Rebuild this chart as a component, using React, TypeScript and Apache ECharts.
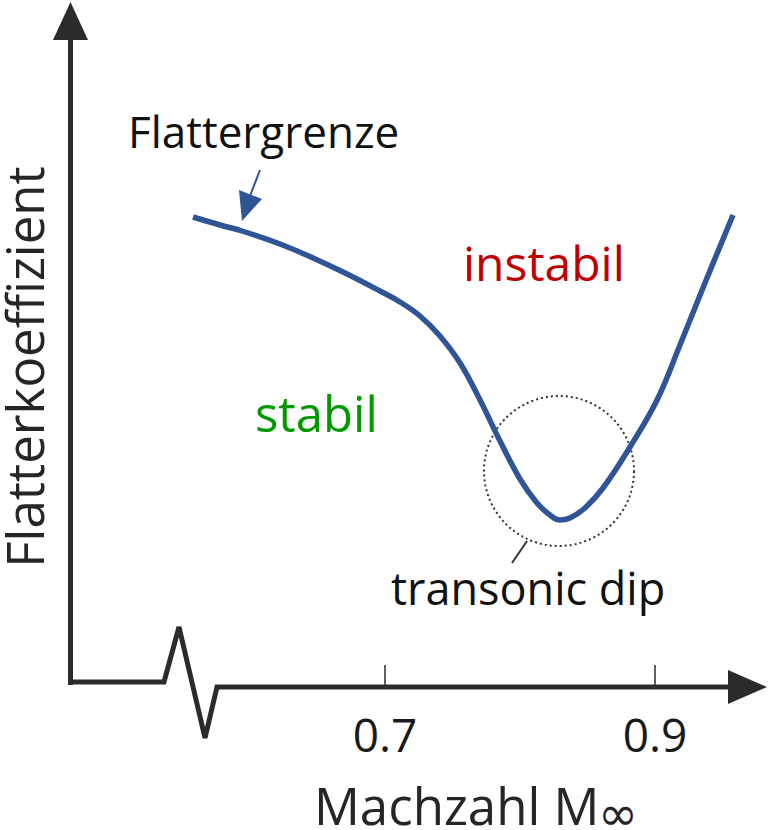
import React, { useEffect, useRef } from "react";
import * as echarts from "echarts";

// Mach number (x) and flutter coefficient (arbitrary units, y)
const machValues = [0.5578, 0.5778, 0.5941, 0.6222, 0.6467, 0.6719, 0.6963, 0.7111, 0.7259, 0.7407, 0.7556, 0.7704, 0.7852, 0.8, 0.8126, 0.8222, 0.8296, 0.837, 0.8481, 0.8615, 0.8815, 0.9015, 0.9185, 0.937, 0.9578];
const flutterCoef = [4.7, 4.62, 4.56, 4.43, 4.29, 4.13, 3.96, 3.85, 3.71, 3.51, 3.24, 2.87, 2.46, 2.08, 1.84, 1.72, 1.67, 1.69, 1.79, 1.99, 2.4, 2.87, 3.42, 4.04, 4.72];
const xTickValues = [0.7, 0.9];

const AXIS_COLOR = "#2b2b2b";
const CURVE_COLOR = "#2f5597";
const FONT = '"Open Sans", "DejaVu Sans", sans-serif';

export default function App() {
  const ref = useRef<HTMLDivElement>(null);

  useEffect(() => {
    if (!ref.current) return;
    const chart = echarts.init(ref.current, null, { renderer: "svg" });
    const option = {
      animation: false,
      backgroundColor: "#ffffff",
      grid: { left: 115, right: 6, top: 17, bottom: 143 },
      xAxis: {
        type: "value",
        min: 0.5,
        max: 0.98,
        axisLine: { show: false },
        splitLine: { show: false },
        axisTick: {
          show: true,
          inside: true,
          length: 22,
          customValues: xTickValues,
          lineStyle: { color: AXIS_COLOR, width: 1.5 },
        },
        axisLabel: {
          show: true,
          customValues: xTickValues,
          margin: 24,
          fontSize: 46,
          fontFamily: FONT,
          color: "#1a1a1a",
          formatter: (v: number) => v.toFixed(1),
        },
      },
      yAxis: {
        type: "value",
        min: 0,
        max: 6.7,
        show: false,
      },
      series: [
        {
          type: "line",
          data: machValues.map((m, i) => [m, flutterCoef[i]]),
          smooth: 0.4,
          showSymbol: false,
          symbol: "none",
          lineStyle: { color: CURVE_COLOR, width: 5.5 },
          z: 5,
        },
      ],
      graphic: [
        // y axis
        {
          type: "line",
          shape: { x1: 70.5, y1: 685, x2: 70.5, y2: 36 },
          style: { stroke: AXIS_COLOR, lineWidth: 5 },
        },
        {
          type: "polygon",
          shape: { points: [[53, 40], [70.5, 2], [88, 40]] },
          style: { fill: AXIS_COLOR },
        },
        // x axis with break
        {
          type: "polyline",
          shape: {
            points: [[68, 682], [164, 682], [179, 627], [205, 738], [217, 687], [735, 687]],
          },
          style: { stroke: AXIS_COLOR, lineWidth: 5, fill: "none", lineJoin: "miter" },
        },
        {
          type: "polygon",
          shape: { points: [[728, 670], [767, 687], [728, 704]] },
          style: { fill: AXIS_COLOR },
        },
        // transonic dip circle and leader
        {
          type: "circle",
          shape: { cx: 559, cy: 471, r: 75 },
          style: { fill: "none", stroke: "#333333", lineWidth: 2, lineDash: [2, 3] },
        },
        {
          type: "line",
          shape: { x1: 512, y1: 563, x2: 527, y2: 541 },
          style: { stroke: "#333333", lineWidth: 2 },
        },
        // Flattergrenze arrow
        {
          type: "line",
          shape: { x1: 260, y1: 170, x2: 250, y2: 196 },
          style: { stroke: CURVE_COLOR, lineWidth: 2 },
        },
        {
          type: "polygon",
          shape: { points: [[239, 190], [262, 199], [242, 221]] },
          style: { fill: CURVE_COLOR },
        },
        // texts
        {
          type: "text",
          x: 128,
          y: 131,
          style: { text: "Flattergrenze", font: `44px ${FONT}`, fill: "#111111", align: "left", verticalAlign: "middle" },
        },
        {
          type: "text",
          x: 463,
          y: 262,
          style: { text: "instabil", font: `48px ${FONT}`, fill: "#c00000", align: "left", verticalAlign: "middle" },
        },
        {
          type: "text",
          x: 255,
          y: 413,
          style: { text: "stabil", font: `49px ${FONT}`, fill: "#009900", align: "left", verticalAlign: "middle" },
        },
        {
          type: "text",
          x: 391,
          y: 587,
          style: { text: "transonic dip", font: `45px ${FONT}`, fill: "#111111", align: "left", verticalAlign: "middle" },
        },
        {
          type: "text",
          x: 314,
          y: 805,
          style: { text: "Machzahl M", font: `51px ${FONT}`, fill: "#262626", align: "left", verticalAlign: "middle", lineHeight: 40 },
        },
        {
          type: "text",
          x: 598,
          y: 813,
          style: { text: "∞", font: `48px "DejaVu Sans", sans-serif`, fill: "#262626", align: "left", verticalAlign: "middle", lineHeight: 30 },
        },
        {
          type: "text",
          x: 24,
          y: 367,
          rotation: Math.PI / 2,
          style: { text: "Flatterkoeffizient", font: `51px ${FONT}`, fill: "#262626", align: "center", verticalAlign: "middle", lineHeight: 40 },
        },
      ],
    };
    chart.setOption(option as any);
    return () => chart.dispose();
  }, []);

  return (
    <div
      ref={ref}
      style={{ position: "absolute", left: 0, top: 0, width: 769, height: 830 }}
    />
  );
}
